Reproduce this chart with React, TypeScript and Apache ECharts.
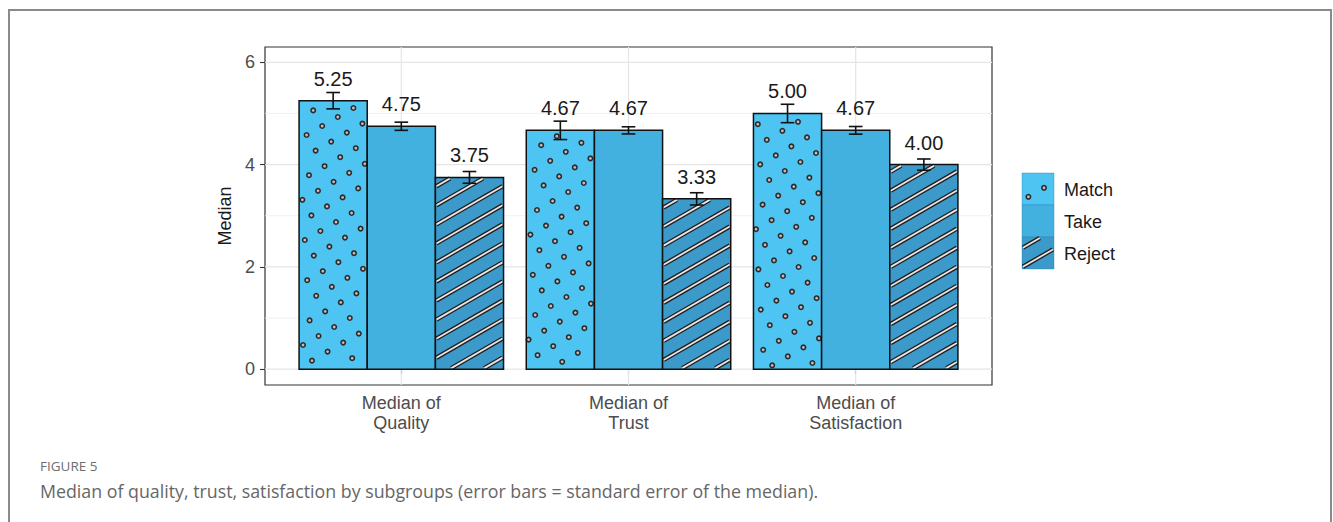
import React, { useEffect, useRef } from "react";
import * as echarts from "echarts";

// ---------- data ----------
const categories = ["Median of\nQuality", "Median of\nTrust", "Median of\nSatisfaction"];
const groups = ["Match", "Take", "Reject"];
const matchMedian = [5.25, 4.67, 5.0];
const matchSE = [0.16, 0.18, 0.18];
const takeMedian = [4.75, 4.67, 4.67];
const takeSE = [0.08, 0.07, 0.075];
const rejectMedian = [3.75, 3.33, 4.0];
const rejectSE = [0.115, 0.12, 0.11];
const yTicks = [0, 2, 4, 6];
const yMinor = [1, 3, 5];
const xTicks = [1, 2, 3];

// ---------- styles ----------
const FONT = '"Liberation Sans", Arial, Helvetica, sans-serif';
const fills = ["#4ec4f3", "#43b1e0", "#3b9aca"];
const patterns = ["dots", "none", "stripes"];
const offsets = [-0.3, 0, 0.3];
const HALF = 0.15;
const CAP = 0.03;
const LABEL_OFF = 0.43;

function clipSeg(x1: number, y1: number, x2: number, y2: number, rx: number, ry: number, rw: number, rh: number) {
  let t0 = 0, t1 = 1;
  const dx = x2 - x1, dy = y2 - y1;
  const p = [-dx, dx, -dy, dy];
  const q = [x1 - rx, rx + rw - x1, y1 - ry, ry + rh - y1];
  for (let i = 0; i < 4; i++) {
    if (p[i] === 0) {
      if (q[i] < 0) return null;
    } else {
      const r = q[i] / p[i];
      if (p[i] < 0) { if (r > t1) return null; if (r > t0) t0 = r; }
      else { if (r < t0) return null; if (r < t1) t1 = r; }
    }
  }
  return [x1 + t0 * dx, y1 + t0 * dy, x1 + t1 * dx, y1 + t1 * dy];
}

function dotElems(x: number, y: number, w: number, h: number) {
  const ux = 9.0, uy = 15.6, vx = 15.6, vy = -9.0;
  const L2 = ux * ux + uy * uy;
  const corners = [[x, y], [x + w, y], [x, y + h], [x + w, y + h]];
  let imin = Infinity, imax = -Infinity, jmin = Infinity, jmax = -Infinity;
  corners.forEach(([px, py]) => {
    const i = (px * ux + py * uy) / L2, j = (px * vx + py * vy) / L2;
    imin = Math.min(imin, i); imax = Math.max(imax, i);
    jmin = Math.min(jmin, j); jmax = Math.max(jmax, j);
  });
  const out: any[] = [];
  for (let i = Math.floor(imin) - 1; i <= Math.ceil(imax) + 1; i++) {
    for (let j = Math.floor(jmin) - 1; j <= Math.ceil(jmax) + 1; j++) {
      const cx = i * ux + j * vx, cy = i * uy + j * vy;
      if (cx > x + 2 && cx < x + w - 2 && cy > y + 2 && cy < y + h - 2) {
        out.push({ type: "circle", silent: true, shape: { cx, cy, r: 2.2 }, style: { fill: "#c9b9b9", stroke: "#2b2b2b", lineWidth: 1.6 } });
      }
    }
  }
  return out;
}

function stripeElems(x: number, y: number, w: number, h: number) {
  const ang = (30 * Math.PI) / 180;
  const dx = Math.cos(ang), dy = -Math.sin(ang);
  const nx = Math.sin(ang), ny = Math.cos(ang);
  const S = 16.5;
  const corners = [[x, y], [x + w, y], [x, y + h], [x + w, y + h]];
  let kmin = Infinity, kmax = -Infinity;
  corners.forEach(([px, py]) => {
    const k = (px * nx + py * ny) / S;
    kmin = Math.min(kmin, k); kmax = Math.max(kmax, k);
  });
  const dark: any[] = [], light: any[] = [];
  for (let k = Math.floor(kmin); k <= Math.ceil(kmax); k++) {
    const px = nx * k * S, py = ny * k * S;
    const seg = clipSeg(px - dx * 4000, py - dy * 4000, px + dx * 4000, py + dy * 4000, x + 1, y + 1, w - 2, h - 2);
    if (!seg) continue;
    const shape = { x1: seg[0], y1: seg[1], x2: seg[2], y2: seg[3] };
    dark.push({ type: "line", silent: true, shape, style: { stroke: "#1e1e1e", lineWidth: 4.4 } });
    light.push({ type: "line", silent: true, shape, style: { stroke: "#ece4e4", lineWidth: 1.8 } });
  }
  return dark.concat(light);
}

function patternElems(kind: string, x: number, y: number, w: number, h: number) {
  if (kind === "dots") return dotElems(x, y, w, h);
  if (kind === "stripes") return stripeElems(x, y, w, h);
  return [];
}

const makeRender = (s: number) => (params: any, api: any) => {
  const xc = api.value(0) + offsets[s];
  const v = api.value(1);
  const e = api.value(2);
  const tl = api.coord([xc - HALF, v]);
  const br = api.coord([xc + HALF, 0]);
  const x = tl[0], y = tl[1], w = br[0] - tl[0], h = br[1] - tl[1];
  const eTop = api.coord([xc, v + e]);
  const eBot = api.coord([xc, v - e]);
  const capL = api.coord([xc - CAP, v])[0];
  const capR = api.coord([xc + CAP, v])[0];
  const lab = api.coord([xc, v + LABEL_OFF]);
  const es = { stroke: "#111", lineWidth: 1.6 };
  const children: any[] = [
    { type: "rect", shape: { x, y, width: w, height: h }, style: { fill: fills[s] } },
    ...patternElems(patterns[s], x, y, w, h),
    { type: "rect", shape: { x, y, width: w, height: h }, style: { fill: "none", stroke: "#111", lineWidth: 1.5 } },
    { type: "line", shape: { x1: eTop[0], y1: eTop[1], x2: eBot[0], y2: eBot[1] }, style: es },
    { type: "line", shape: { x1: capL, y1: eTop[1], x2: capR, y2: eTop[1] }, style: es },
    { type: "line", shape: { x1: capL, y1: eBot[1], x2: capR, y2: eBot[1] }, style: es },
    {
      type: "text",
      style: { text: v.toFixed(2), x: lab[0], y: lab[1], align: "center", verticalAlign: "middle", textAlign: "center", textVerticalAlign: "middle", fill: "#1a1a1a", fontSize: 20, fontFamily: FONT },
    },
  ];
  return { type: "group", children };
};

const hGridRender = (params: any, api: any) => {
  const cs = params.coordSys;
  const v = api.value(0);
  const major = api.value(1) === 1;
  const y = api.coord([1, v])[1];
  return { type: "line", shape: { x1: cs.x, y1: y, x2: cs.x + cs.width, y2: y }, style: { stroke: major ? "#e5e5e5" : "#eeeeee", lineWidth: major ? 1.2 : 0.8 } };
};
const vGridRender = (params: any, api: any) => {
  const cs = params.coordSys;
  const x = api.coord([api.value(0), 0])[0];
  return { type: "line", shape: { x1: x, y1: cs.y, x2: x, y2: cs.y + cs.height }, style: { stroke: "#e5e5e5", lineWidth: 1.2 } };
};

function legendGraphic() {
  const kx = 1022, ky = 173, kw = 32, kh = 32;
  const els: any[] = [];
  groups.forEach((g, i) => {
    const y = ky + i * kh;
    els.push({ type: "rect", shape: { x: kx, y, width: kw, height: kh }, style: { fill: fills[i], stroke: "#2a7fa8", lineWidth: 0.4 } });
    patternElems(patterns[i], kx, y, kw, kh).forEach((el) => els.push(el));
    els.push({
      type: "text",
      style: { text: g, x: kx + 42, y: y + kh / 2 + 1, textVerticalAlign: "middle", verticalAlign: "middle", fill: "#1a1a1a", fontSize: 18, fontFamily: FONT },
    });
  });
  return els;
}

export default function App() {
  const ref = useRef<HTMLDivElement>(null);
  useEffect(() => {
    if (!ref.current) return;
    const chart = echarts.init(ref.current, null, { renderer: "svg" });
    const medians = [matchMedian, takeMedian, rejectMedian];
    const ses = [matchSE, takeSE, rejectSE];
    const barSeries = groups.map((g, s) => ({
      type: "custom",
      name: g,
      z: 3,
      renderItem: makeRender(s),
      data: categories.map((_, i) => [i + 1, medians[s][i], ses[s][i]]),
    }));
    const option: any = {
      animation: false,
      backgroundColor: "#ffffff",
      grid: { left: 265, top: 47, width: 727, height: 338, show: true, borderColor: "#333333", borderWidth: 1.2, backgroundColor: "transparent", containLabel: false, outerBoundsMode: "none" },
      xAxis: {
        type: "value",
        min: 0.4,
        max: 3.6,
        axisLine: { show: false },
        splitLine: { show: false },
        axisTick: { show: true, customValues: xTicks, length: 5, lineStyle: { color: "#333", width: 1.1 } },
        axisLabel: {
          customValues: xTicks,
          formatter: (v: number) => categories[Math.round(v) - 1] ?? "",
          fontSize: 18,
          lineHeight: 20,
          color: "#4d4d4d",
          fontFamily: FONT,
          margin: 8,
        },
      },
      yAxis: {
        type: "value",
        min: -0.31,
        max: 6.3,
        name: "Median",
        nameLocation: "middle",
        nameGap: 20,
        nameRotate: 90,
        nameTextStyle: { fontSize: 18, color: "#1a1a1a", fontFamily: FONT },
        axisLine: { show: false },
        splitLine: { show: false },
        axisTick: { show: true, customValues: yTicks, length: 5, lineStyle: { color: "#333", width: 1.1 } },
        axisLabel: { customValues: yTicks, fontSize: 18, color: "#4d4d4d", fontFamily: FONT, margin: 10 },
      },
      series: [
        { type: "custom", z: 1, silent: true, renderItem: hGridRender, data: yTicks.map((v) => [v, 1]).concat(yMinor.map((v) => [v, 0])) },
        { type: "custom", z: 1, silent: true, renderItem: vGridRender, data: xTicks.map((v) => [v]) },
        ...barSeries,
      ],
      graphic: [
        { type: "rect", silent: true, shape: { x: 9, y: 10, width: 1322, height: 560 }, style: { fill: "none", stroke: "#8a8a8a", lineWidth: 2 } },
        ...legendGraphic(),
        { type: "text", style: { text: "FIGURE 5", x: 40, y: 466, textVerticalAlign: "middle", verticalAlign: "middle", fill: "#6e6e6e", fontSize: 13.5, fontFamily: '"Open Sans", sans-serif' } },
        {
          type: "text",
          style: { text: "Median of quality, trust, satisfaction by subgroups (error bars = standard error of the median).", x: 40, y: 491, textVerticalAlign: "middle", verticalAlign: "middle", fill: "#666666", fontSize: 17.8, fontFamily: '"Open Sans", sans-serif' },
        },
      ],
    };
    chart.setOption(option);
    return () => chart.dispose();
  }, []);
  return <div ref={ref} style={{ position: "fixed", left: 0, top: 0, width: 1333, height: 522 }} />;
}
